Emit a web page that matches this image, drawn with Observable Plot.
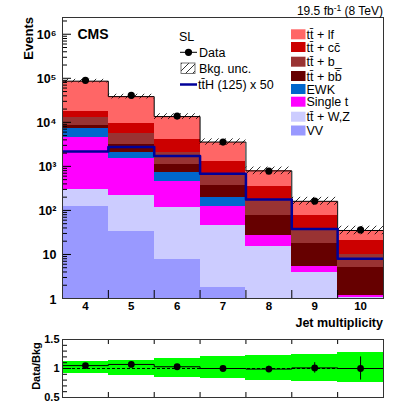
<!DOCTYPE html>
<html><head><meta charset="utf-8">
<script src="https://cdn.jsdelivr.net/npm/d3@7"></script>
<script src="https://cdn.jsdelivr.net/npm/@observablehq/plot@0.6"></script>
<style>
body{margin:0;background:#fff;}
#root{position:relative;width:395px;height:406px;overflow:hidden;font-family:"Liberation Sans",Arial,sans-serif;}
#root svg{position:absolute;left:0;}
</style></head><body><div id="root"></div>
<script>
// ---- data ----
const jetBins   = [4, 5, 6, 7, 8, 9, 10];
const ttlf      = [68000, 28700, 9460, 2250, 439, 84, 14.2];
const ttcc      = [5420, 3930, 1960, 662, 182, 42, 10.8];
const ttb       = [4120, 2550, 970, 288, 92, 17, 4.9];
const ttbb      = [1340, 1050, 399, 170, 50, 12.7, 3.93];
const ewk       = [2630, 610, 248, 76, 0, 0, 0];
const singleT   = [4260, 1281, 348, 78, 11.8, 1.34, 0.1];
const ttV       = [173, 186, 107, 43.8, 14.9, 3.86, 1.02];
const vv        = [123, 33, 7.6, 1.8, 0.3, 0.1, 0.05];
const tthX50    = [2190, 2750, 1730, 682, 178, 38, 8.0];
const dataEv    = [90000, 41000, 13900, 3570, 782, 163, 36];
const bkgUnc    = [0.10, 0.13, 0.16, 0.18, 0.22, 0.23, 0.25];
const ratioVal  = [1.05, 1.07, 1.03, 1.00, 0.99, 1.01, 1.00];
const ratioErr  = [0.01, 0.012, 0.02, 0.03, 0.05, 0.09, 0.2];
const ratioLo   = [0.91, 0.88, 0.85, 0.83, 0.79, 0.77, 0.76];
const ratioHi   = [1.12, 1.14, 1.17, 1.20, 1.23, 1.24, 1.27];
const yTicks      = [1, 10, 100, 1e3, 1e4, 1e5, 1e6];
const yTickLabels = ["1", "10", "10²", "10³", "10⁴", "10⁵", "10⁶"];
const rTicks      = [0.5, 1, 1.5];
const rTickLabels = ["0.5", "1", "1.5"];

const stackDefs = [
  {name: "VV",        vals: vv,      color: "#9999ff"},
  {name: "tt̄ + W,Z",  vals: ttV,     color: "#ccccff"},
  {name: "Single t",  vals: singleT, color: "#ff00ff"},
  {name: "EWK",       vals: ewk,     color: "#0066cc"},
  {name: "tt̄ + bb̄",   vals: ttbb,    color: "#660000"},
  {name: "tt̄ + b_",   vals: ttb,     color: "#993333"},
  {name: "tt̄ + cc̄",   vals: ttcc,    color: "#cc0000"},
  {name: "tt̄ + lf",   vals: ttlf,    color: "#ff6666"}
];

// stack
const stackRows = [];
const totals = [];
jetBins.forEach((b, i) => {
  let base = 1e-3;
  for (const s of stackDefs) {
    const top = base + s.vals[i];
    stackRows.push({bin: b, y1: base, y2: top, color: s.color});
    base = top;
  }
  totals.push(base);
});
const stepPts = vals => [...jetBins.map((b, i) => ({x: b - 0.5, y: vals[i]})),
                         {x: jetBins[jetBins.length - 1] + 0.5, y: vals[vals.length - 1]}];

const W = 395, mL = 62, mR = 12;
const xDom = [3.5, 10.5];
const pxPerUnit = (W - mL - mR) / (xDom[1] - xDom[0]);
const mainTop = 17, mainBottom = 298, mainH = 330;
const yDom = [1, 2.4e6];
const pxPerDecade = (mainBottom - mainTop) / Math.log10(yDom[1] / yDom[0]);

const yMinor = [];
for (let d = 1; d < yDom[1]; d *= 10) for (let k = 2; k <= 9; k++) if (d * k <= yDom[1]) yMinor.push(d * k);
const binEdges = jetBins.slice(1).map(b => b - 0.5);
const yLab = new Map(yTicks.map((t, i) => [t, yTickLabels[i]]));
const rLab = new Map(rTicks.map((t, i) => [t, rTickLabels[i]]));
const font = "Liberation Sans, Arial, sans-serif";

const main = Plot.plot({
  width: W, height: mainH,
  marginTop: mainTop, marginBottom: mainH - mainBottom, marginLeft: mL, marginRight: mR,
  style: {fontFamily: font, background: "transparent", overflow: "visible"},
  x: {domain: xDom, axis: null},
  y: {type: "log", domain: yDom, axis: null},
  color: {type: "identity"},
  marks: [
    Plot.rect(stackRows, {x1: d => d.bin - 0.5, x2: d => d.bin + 0.5, y1: "y1", y2: "y2", fill: "color", clip: true, shapeRendering: "crispEdges"}),
    Plot.rect(jetBins, {x1: b => b - 0.5, x2: b => b + 0.5,
      y1: (b, i) => totals[i] / (1 + bkgUnc[i]), y2: (b, i) => totals[i] * (1 + bkgUnc[i]),
      fill: "url(#hatchMain)", clip: true}),
    Plot.line(stepPts(totals), {x: "x", y: "y", curve: "step-after", stroke: "#000", strokeWidth: 1, clip: true}),
    Plot.line(stepPts(tthX50), {x: "x", y: "y", curve: "step-after", stroke: "#000099", strokeWidth: 2.5, clip: true}),
    Plot.ruleX(jetBins, {x: b => b, y1: (b, i) => dataEv[i] - Math.sqrt(dataEv[i]), y2: (b, i) => dataEv[i] + Math.sqrt(dataEv[i]), stroke: "#000"}),
    Plot.dot(jetBins, {x: b => b, y: (b, i) => dataEv[i], r: 3.6, fill: "#000", stroke: "none"}),
    // axis ticks (inside frame)
    Plot.ruleY(yTicks, {y: d => d, x1: xDom[0], x2: xDom[0] + 9 / pxPerUnit, stroke: "#000"}),
    Plot.ruleY(yMinor, {y: d => d, x1: xDom[0], x2: xDom[0] + 5 / pxPerUnit, stroke: "#000"}),
    Plot.ruleX(binEdges, {x: d => d, y1: yDom[0], y2: yDom[0] * Math.pow(10, 8 / pxPerDecade), stroke: "#000"}),
    Plot.text(yTicks, {x: xDom[0], y: d => d, text: d => yLab.get(d), textAnchor: "end", dx: -6, dy: 1, fontSize: 12.5, fontWeight: "bold", fill: "#000"}),
    Plot.text(jetBins, {x: d => d, y: yDom[0], text: d => String(d), lineAnchor: "top", dy: 3, fontSize: 11.5, fontWeight: "bold", fill: "#000"}),
    Plot.frame({stroke: "#333"})
  ]
});

const rH = 76, rTop = 330;
const rMinor = d3.range(0.6, 1.5, 0.1).map(v => Math.round(v * 10) / 10).filter(v => v !== 1);
const ratio = Plot.plot({
  width: W, height: rH, marginTop: 9, marginBottom: 9, marginLeft: mL, marginRight: mR,
  style: {fontFamily: font, background: "transparent", overflow: "visible"},
  x: {domain: xDom, axis: null},
  y: {domain: [0.5, 1.5], axis: null},
  marks: [
    Plot.rect(jetBins, {x1: b => b - 0.5, x2: b => b + 0.5, y1: (b, i) => ratioLo[i], y2: (b, i) => ratioHi[i], fill: "#00ff00", clip: true, shapeRendering: "crispEdges"}),
    Plot.ruleY([1], {stroke: "#000", strokeDasharray: "3,2"}),
    Plot.line(stepPts(ratioVal), {x: "x", y: "y", curve: "step-after", stroke: "#000", strokeWidth: 1}),
    Plot.ruleX(jetBins, {x: b => b, y1: (b, i) => ratioVal[i] - ratioErr[i], y2: (b, i) => ratioVal[i] + ratioErr[i], stroke: "#000"}),
    Plot.dot(jetBins, {x: b => b, y: (b, i) => ratioVal[i], r: 3.4, fill: "#000", stroke: "none"}),
    Plot.ruleY(rTicks, {y: d => d, x1: xDom[0], x2: xDom[0] + 9 / pxPerUnit, stroke: "#000"}),
    Plot.ruleY(rMinor, {y: d => d, x1: xDom[0], x2: xDom[0] + 5 / pxPerUnit, stroke: "#000"}),
    Plot.ruleX(binEdges, {x: d => d, y1: 0.5, y2: 0.5 + 5 / 58, stroke: "#000"}),
    Plot.ruleX(binEdges, {x: d => d, y1: 1.5, y2: 1.5 - 5 / 58, stroke: "#000"}),
    Plot.text(rTicks, {x: xDom[0], y: d => d, text: d => rLab.get(d), textAnchor: "end", dx: -3, fontSize: 11, fontWeight: "bold", fill: "#000"}),
    Plot.frame({stroke: "#333"})
  ]
});

const root = document.getElementById("root");
main.style.top = "0px";
ratio.style.top = rTop + "px";
root.appendChild(main);
root.appendChild(ratio);

function addHatch(svgSel, id) {
  const p = svgSel.insert("defs", ":first-child").append("pattern")
    .attr("id", id).attr("patternUnits", "userSpaceOnUse").attr("width", 7).attr("height", 7);
  p.append("path").attr("d", "M0,7L7,0M-1,1L1,-1M6,8L8,6").attr("stroke", "#000").attr("stroke-width", 0.8);
}
addHatch(d3.select(main), "hatchMain");

// overlay: titles + legend
const ov = d3.select(root).append("svg").attr("width", W).attr("height", 406)
  .style("top", "0px").style("pointer-events", "none").attr("font-family", font);
addHatch(ov, "hatchLeg");

const lumi = ov.append("text").attr("x", 383).attr("y", 15).attr("text-anchor", "end").attr("font-size", 12);
lumi.append("tspan").text("19.5 fb");
lumi.append("tspan").attr("dy", -4.5).attr("font-size", 8.5).text("-1");
lumi.append("tspan").attr("dy", 4.5).text(" (8 TeV)");

ov.append("text").attr("x", 77.5).attr("y", 38.5).attr("font-size", 14).attr("font-weight", "bold").text("CMS");
ov.append("text").attr("transform", "translate(33,17) rotate(-90)").attr("text-anchor", "end")
  .attr("font-size", 13).attr("font-weight", "bold").text("Events");
ov.append("text").attr("x", 383).attr("y", 327).attr("text-anchor", "end")
  .attr("font-size", 12.5).attr("font-weight", "bold").text("Jet multiplicity");
ov.append("text").attr("transform", "translate(40,366) rotate(-90)").attr("text-anchor", "middle")
  .attr("font-size", 11).attr("font-weight", "bold").text("Data/Bkg");

// left legend
ov.append("text").attr("x", 179).attr("y", 40.5).attr("font-size", 12.5).text("SL");
ov.append("line").attr("x1", 180).attr("x2", 197).attr("y1", 52.3).attr("y2", 52.3).attr("stroke", "#000");
ov.append("circle").attr("cx", 188.5).attr("cy", 52.3).attr("r", 3.6).attr("fill", "#000");
ov.append("text").attr("x", 199).attr("y", 56.8).attr("font-size", 12.5).text("Data");
ov.append("rect").attr("x", 181).attr("y", 63).attr("width", 14).attr("height", 10.5)
  .attr("fill", "url(#hatchLeg)").attr("stroke", "#555").attr("stroke-width", 0.8);
ov.append("text").attr("x", 199).attr("y", 72.5).attr("font-size", 12.5).text("Bkg. unc.");
ov.append("line").attr("x1", 180).attr("x2", 197).attr("y1", 84.5).attr("y2", 84.5).attr("stroke", "#000099").attr("stroke-width", 2.5);
ov.append("text").attr("x", 198).attr("y", 89).attr("font-size", 12.5).text("tt̄H (125) x 50");

// right legend
const legRows = [
  {name: "tt̄ + lf",   color: "#ff6666", y: 34.3},
  {name: "tt̄ + cc̄",   color: "#cc0000", y: 47},
  {name: "tt̄ + b_",   color: "#993333", y: 61.7},
  {name: "tt̄ + bb̄",   color: "#660000", y: 76},
  {name: "EWK",       color: "#0066cc", y: 89},
  {name: "Single t",  color: "#ff00ff", y: 101.7},
  {name: "tt̄ + W,Z",  color: "#ccccff", y: 116.7},
  {name: "VV",        color: "#9999ff", y: 130.5}
];
for (const r of legRows) {
  ov.append("rect").attr("x", 291).attr("y", r.y - 5).attr("width", 14.5).attr("height", 10).attr("fill", r.color);
  ov.append("text").attr("x", 306.5).attr("y", r.y + 4.6).attr("font-size", 12.5).text(r.name);
}
</script></body></html>
